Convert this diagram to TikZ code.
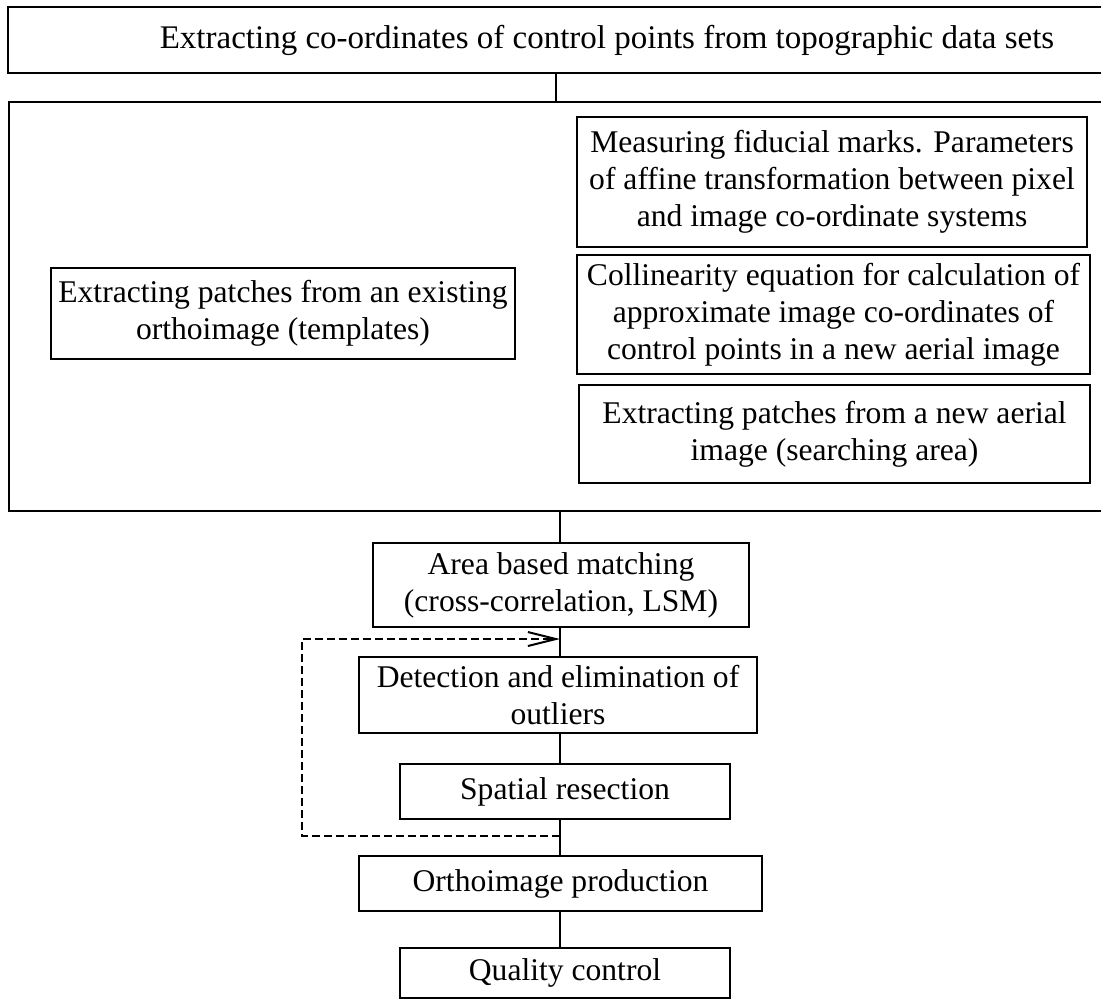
\documentclass[tikz,border=0pt]{standalone}
\usepackage{fontspec}
\setmainfont{Liberation Serif}
\usetikzlibrary{arrows.meta}
\begin{document}
\begin{tikzpicture}[x=0.5pt,y=-0.5pt,
  procbox/.style={draw,line width=1pt,align=center,inner sep=0pt,font=\fontsize{15.8}{18.5}\selectfont},
  link/.style={line width=1pt},
  loopline/.style={line width=1pt,dash pattern=on 4pt off 2pt,-{Straight Barb[length=14pt,width=7pt]}}]
\clip (0,0) rectangle (1101,1000);
\node[procbox,minimum width=599pt,minimum height=33pt,font=\fontsize{16.5}{18.5}\selectfont] (topo) at (607,40) {Extracting co-ordinates of control points from topographic data sets};
\node[procbox,minimum width=599pt,minimum height=204.5pt] (frame) at (608,306.5) {};
\node[procbox,minimum width=232pt,minimum height=45.5pt] (templ) at (283,313.5) {Extracting patches from an existing\\orthoimage (templates)};
\node[procbox,minimum width=255pt,minimum height=65pt] (fid) at (832,182) {Measuring fiducial marks. Parameters\\of affine transformation between pixel\\and image co-ordinate systems};
\node[procbox,minimum width=256.5pt,minimum height=59.5pt] (coll) at (833.5,314.5) {Collinearity equation for calculation of\\approximate image co-ordinates of\\control points in a new aerial image};
\node[procbox,minimum width=255.5pt,minimum height=49pt] (search) at (834.5,434) {Extracting patches from a new aerial\\image (searching area)};
\node[procbox,minimum width=188pt,minimum height=42pt] (abm) at (561,585) {Area based matching\\(cross-correlation, LSM)};
\node[procbox,minimum width=199pt,minimum height=38pt] (det) at (558,695) {Detection and elimination of\\outliers};
\node[procbox,minimum width=165pt,minimum height=27.5pt] (spat) at (565,791.5) {Spatial resection};
\node[procbox,minimum width=201.5pt,minimum height=27.5pt] (ortho) at (560.5,883.5) {Orthoimage production};
\node[procbox,minimum width=165pt,minimum height=25pt] (qual) at (565,973) {Quality control};
% vertical links
\coordinate (tx) at (556,0);
\coordinate (cx) at (560,0);
\draw[link] (tx |- topo.south) -- (tx |- frame.north);
\foreach \a/\b in {frame/abm,abm/det,det/spat,spat/ortho,ortho/qual}
  \draw[link] (cx |- \a.south) -- (cx |- \b.north);
% feedback loop
\coordinate (fa) at (560,639);
\coordinate (fb) at (560,836);
\coordinate (lx) at (302,0);
\draw[loopline] (fb) -- (fb -| lx) -- (fa -| lx) -- (fa);
\end{tikzpicture}
\end{document}
